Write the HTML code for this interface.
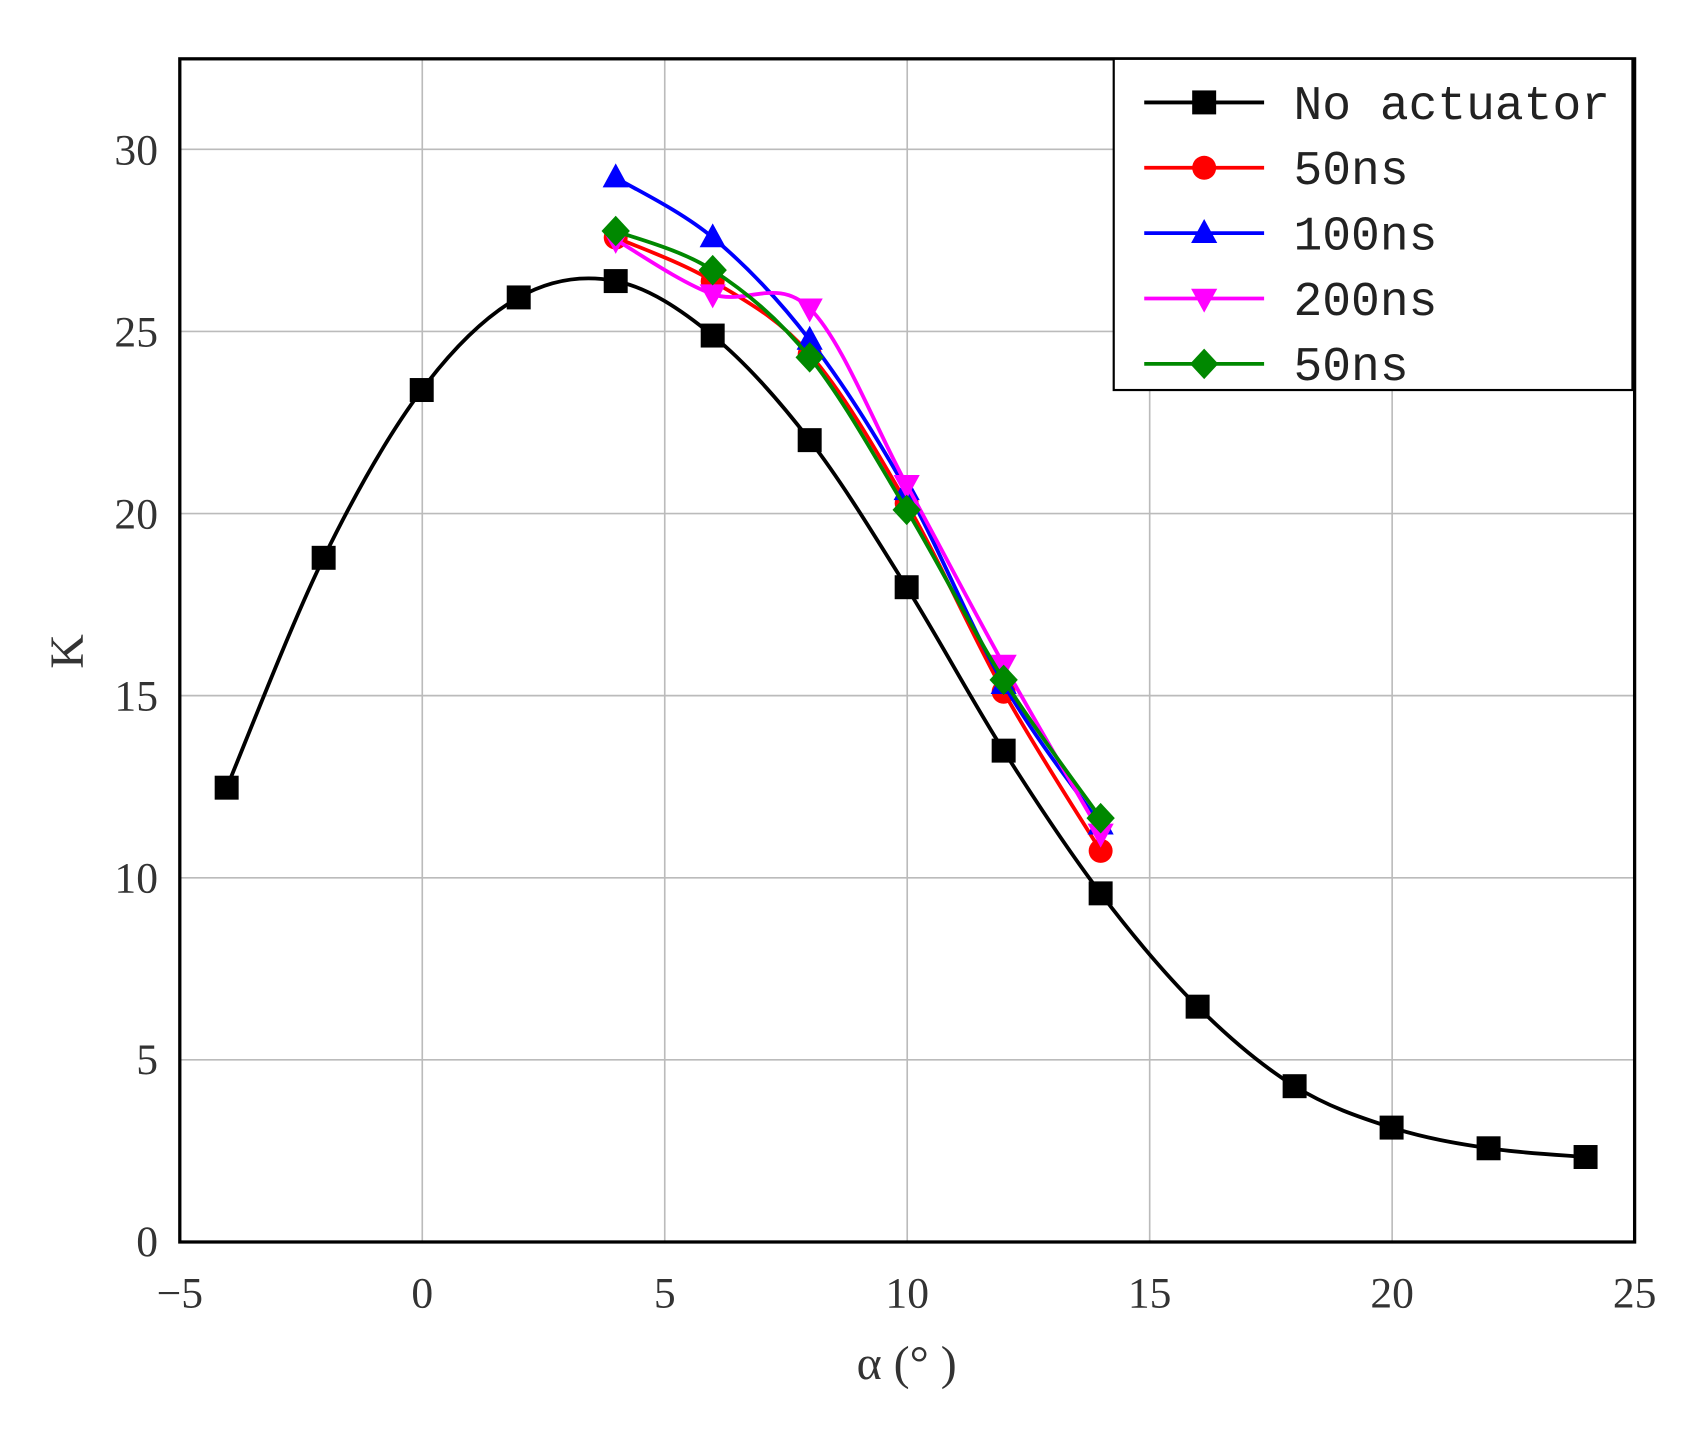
<!DOCTYPE html>
<html><head><meta charset="utf-8"><style>html,body{margin:0;padding:0;background:#fff}svg{display:block}</style></head>
<body>
<svg id="s" width="1700" height="1437" viewBox="0 0 1560 1319" preserveAspectRatio="none" xmlns="http://www.w3.org/2000/svg">
<rect width="1560" height="1319" fill="#fff"/>
<g stroke="#bbb" stroke-width="1.5">
<line x1="387.5" y1="54" x2="387.5" y2="1140"/><line x1="610" y1="54" x2="610" y2="1140"/>
<line x1="832.5" y1="54" x2="832.5" y2="1140"/><line x1="1055" y1="54" x2="1055" y2="1140"/>
<line x1="1277.5" y1="54" x2="1277.5" y2="1140"/>
<line x1="165" y1="972.8" x2="1500" y2="972.8"/><line x1="165" y1="805.7" x2="1500" y2="805.7"/>
<line x1="165" y1="638.5" x2="1500" y2="638.5"/><line x1="165" y1="471.4" x2="1500" y2="471.4"/>
<line x1="165" y1="304.2" x2="1500" y2="304.2"/><line x1="165" y1="137.1" x2="1500" y2="137.1"/>
</g>
<rect x="165" y="54" width="1335" height="1086" fill="none" stroke="#000" stroke-width="3"/>
<g font-family="Liberation Serif, serif" font-size="40" fill="#333" text-anchor="end">
<text x="145" y="1153">0</text><text x="145" y="986">5</text><text x="145" y="819">10</text>
<text x="145" y="652">15</text><text x="145" y="485">20</text><text x="145" y="318">25</text><text x="145" y="151">30</text>
</g>
<g font-family="Liberation Serif, serif" font-size="40" fill="#333" text-anchor="middle">
<text x="165" y="1200">−5</text><text x="387.5" y="1200">0</text><text x="610" y="1200">5</text>
<text x="832.5" y="1200">10</text><text x="1055" y="1200">15</text><text x="1277.5" y="1200">20</text><text x="1500" y="1200">25</text>
<text x="832" y="1266" font-size="44">α (°  )</text>
<text transform="translate(76,598) rotate(-90)" font-size="44">K</text>
</g>
<g id="series"></g>
<rect x="1022" y="54" width="476" height="304" fill="#fff" stroke="#000" stroke-width="2"/>
<g id="leg"></g>
</svg>
<script>
var S=[
["#000","sq",[[208,723],[297,512],[387,358],[476,273],[565,258],[654,308],[743,404],[832,539],[921,689],[1010,820],[1099,924],[1188,997],[1277,1035],[1366,1054],[1455,1062]],"No actuator"],
["#f00","ci",[[565,218],[654,258],[743,325],[832,462],[921,635],[1010,781]],"50ns"],
["#00f","tu",[[565,163],[654,218],[743,312],[832,450],[921,628],[1010,757]],"100ns"],
["#f0f","td",[[565,220],[654,270],[743,283],[832,445],[921,610],[1010,765]],"200ns"],
["#080","di",[[565,212],[654,248],[743,328],[832,468],[921,624],[1010,751]],"50ns"]];
var NS="http://www.w3.org/2000/svg";
function el(p,t,a){var e=document.createElementNS(NS,t);for(var k in a)e.setAttribute(k,a[k]);p.appendChild(e);return e;}
function path(pts){var d="M"+pts[0];for(var i=0;i<pts.length-1;i++){var p0=pts[i-1]||pts[i],p1=pts[i],p2=pts[i+1],p3=pts[i+2]||p2;
d+=" C"+(p1[0]+(p2[0]-p0[0])/6)+","+(p1[1]+(p2[1]-p0[1])/6)+" "+(p2[0]-(p3[0]-p1[0])/6)+","+(p2[1]-(p3[1]-p1[1])/6)+" "+p2;}return d;}
function mk(g,t,x,y,c){var r=11;
if(t=="sq")el(g,"rect",{x:x-r,y:y-r,width:2*r,height:2*r,fill:c});
else if(t=="ci")el(g,"circle",{cx:x,cy:y,r:r,fill:c});
else if(t=="tu")el(g,"polygon",{points:(x)+","+(y-13)+" "+(x-12)+","+(y+9)+" "+(x+12)+","+(y+9),fill:c});
else if(t=="td")el(g,"polygon",{points:(x)+","+(y+13)+" "+(x-12)+","+(y-9)+" "+(x+12)+","+(y-9),fill:c});
else el(g,"polygon",{points:x+","+(y-14)+" "+(x+13)+","+y+" "+x+","+(y+14)+" "+(x-13)+","+y,fill:c});}
var g=document.getElementById("series"),L=document.getElementById("leg");
S.forEach(function(s,i){el(g,"path",{d:path(s[2]),fill:"none",stroke:s[0],"stroke-width":3.5});
s[2].forEach(function(p){mk(g,s[1],p[0],p[1],s[0]);});
var y=94+i*60;el(L,"line",{x1:1050,y1:y,x2:1160,y2:y,stroke:s[0],"stroke-width":3.5});mk(L,s[1],1105,y,s[0]);
var t=el(L,"text",{x:1187,y:y+15,"font-family":"Liberation Mono, monospace","font-size":44,fill:"#222"});t.textContent=s[3];});
</script>
</body></html>
